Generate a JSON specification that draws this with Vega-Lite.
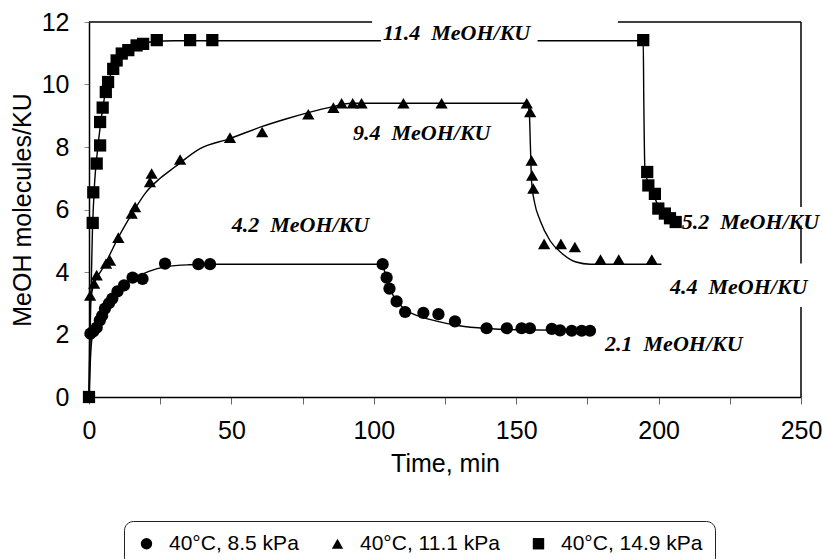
{
  "$schema": "https://vega.github.io/schema/vega-lite/v6.json",
  "width": 712,
  "height": 375,
  "autosize": "none",
  "padding": {"left": 89, "top": 22, "right": 22, "bottom": 162},
  "background": "white",
  "config": {"view": {"stroke": null}, "font": "Liberation Sans"},
  "datasets": {
    "points": [
      {"series": "40°C, 8.5 kPa", "t": 0, "v": 0},
      {"series": "40°C, 8.5 kPa", "t": 0.5, "v": 2.03},
      {"series": "40°C, 8.5 kPa", "t": 1.5, "v": 2.1},
      {"series": "40°C, 8.5 kPa", "t": 2.7, "v": 2.22},
      {"series": "40°C, 8.5 kPa", "t": 3.8, "v": 2.45},
      {"series": "40°C, 8.5 kPa", "t": 4.6, "v": 2.6},
      {"series": "40°C, 8.5 kPa", "t": 5.6, "v": 2.83},
      {"series": "40°C, 8.5 kPa", "t": 7.0, "v": 3.0},
      {"series": "40°C, 8.5 kPa", "t": 8.2, "v": 3.15},
      {"series": "40°C, 8.5 kPa", "t": 10.0, "v": 3.38},
      {"series": "40°C, 8.5 kPa", "t": 12.3, "v": 3.57},
      {"series": "40°C, 8.5 kPa", "t": 15.3, "v": 3.82},
      {"series": "40°C, 8.5 kPa", "t": 18.8, "v": 3.78},
      {"series": "40°C, 8.5 kPa", "t": 26.7, "v": 4.27},
      {"series": "40°C, 8.5 kPa", "t": 38.4, "v": 4.25},
      {"series": "40°C, 8.5 kPa", "t": 42.5, "v": 4.25},
      {"series": "40°C, 8.5 kPa", "t": 103.1, "v": 4.25},
      {"series": "40°C, 8.5 kPa", "t": 104.5, "v": 3.82},
      {"series": "40°C, 8.5 kPa", "t": 105.5, "v": 3.47},
      {"series": "40°C, 8.5 kPa", "t": 108.0, "v": 3.06},
      {"series": "40°C, 8.5 kPa", "t": 111.0, "v": 2.72},
      {"series": "40°C, 8.5 kPa", "t": 117.4, "v": 2.69},
      {"series": "40°C, 8.5 kPa", "t": 122.7, "v": 2.65},
      {"series": "40°C, 8.5 kPa", "t": 128.5, "v": 2.42},
      {"series": "40°C, 8.5 kPa", "t": 139.6, "v": 2.2},
      {"series": "40°C, 8.5 kPa", "t": 146.7, "v": 2.2},
      {"series": "40°C, 8.5 kPa", "t": 151.9, "v": 2.2},
      {"series": "40°C, 8.5 kPa", "t": 154.8, "v": 2.2},
      {"series": "40°C, 8.5 kPa", "t": 162.5, "v": 2.18},
      {"series": "40°C, 8.5 kPa", "t": 165.4, "v": 2.13},
      {"series": "40°C, 8.5 kPa", "t": 169.5, "v": 2.12},
      {"series": "40°C, 8.5 kPa", "t": 173.0, "v": 2.12},
      {"series": "40°C, 8.5 kPa", "t": 175.9, "v": 2.12},
      {"series": "40°C, 11.1 kPa", "t": 0, "v": 0},
      {"series": "40°C, 11.1 kPa", "t": 0.4, "v": 3.25},
      {"series": "40°C, 11.1 kPa", "t": 1.8, "v": 3.63},
      {"series": "40°C, 11.1 kPa", "t": 2.7, "v": 3.9},
      {"series": "40°C, 11.1 kPa", "t": 6.0, "v": 4.27},
      {"series": "40°C, 11.1 kPa", "t": 7.4, "v": 4.37},
      {"series": "40°C, 11.1 kPa", "t": 10.3, "v": 5.1},
      {"series": "40°C, 11.1 kPa", "t": 15.0, "v": 5.87},
      {"series": "40°C, 11.1 kPa", "t": 16.2, "v": 6.08},
      {"series": "40°C, 11.1 kPa", "t": 21.4, "v": 6.88},
      {"series": "40°C, 11.1 kPa", "t": 22.0, "v": 7.15},
      {"series": "40°C, 11.1 kPa", "t": 32.0, "v": 7.6},
      {"series": "40°C, 11.1 kPa", "t": 49.5, "v": 8.3},
      {"series": "40°C, 11.1 kPa", "t": 60.8, "v": 8.48},
      {"series": "40°C, 11.1 kPa", "t": 77.0, "v": 9.05},
      {"series": "40°C, 11.1 kPa", "t": 85.8, "v": 9.26},
      {"series": "40°C, 11.1 kPa", "t": 88.7, "v": 9.4},
      {"series": "40°C, 11.1 kPa", "t": 92.6, "v": 9.4},
      {"series": "40°C, 11.1 kPa", "t": 95.7, "v": 9.4},
      {"series": "40°C, 11.1 kPa", "t": 110.4, "v": 9.4},
      {"series": "40°C, 11.1 kPa", "t": 123.8, "v": 9.4},
      {"series": "40°C, 11.1 kPa", "t": 153.7, "v": 9.4},
      {"series": "40°C, 11.1 kPa", "t": 154.9, "v": 9.12},
      {"series": "40°C, 11.1 kPa", "t": 155.4, "v": 7.57},
      {"series": "40°C, 11.1 kPa", "t": 155.6, "v": 7.09},
      {"series": "40°C, 11.1 kPa", "t": 156.0, "v": 6.67},
      {"series": "40°C, 11.1 kPa", "t": 159.8, "v": 4.9},
      {"series": "40°C, 11.1 kPa", "t": 165.7, "v": 4.9},
      {"series": "40°C, 11.1 kPa", "t": 170.6, "v": 4.8},
      {"series": "40°C, 11.1 kPa", "t": 179.6, "v": 4.4},
      {"series": "40°C, 11.1 kPa", "t": 186.0, "v": 4.4},
      {"series": "40°C, 11.1 kPa", "t": 197.6, "v": 4.4},
      {"series": "40°C, 14.9 kPa", "t": 0, "v": 0},
      {"series": "40°C, 14.9 kPa", "t": 1.3, "v": 5.57},
      {"series": "40°C, 14.9 kPa", "t": 1.5, "v": 6.55},
      {"series": "40°C, 14.9 kPa", "t": 2.7, "v": 7.47},
      {"series": "40°C, 14.9 kPa", "t": 3.9, "v": 8.05},
      {"series": "40°C, 14.9 kPa", "t": 3.9, "v": 8.8},
      {"series": "40°C, 14.9 kPa", "t": 4.8, "v": 9.26},
      {"series": "40°C, 14.9 kPa", "t": 5.9, "v": 9.76},
      {"series": "40°C, 14.9 kPa", "t": 6.7, "v": 10.08},
      {"series": "40°C, 14.9 kPa", "t": 8.5, "v": 10.5},
      {"series": "40°C, 14.9 kPa", "t": 9.7, "v": 10.77},
      {"series": "40°C, 14.9 kPa", "t": 11.5, "v": 10.99},
      {"series": "40°C, 14.9 kPa", "t": 13.8, "v": 11.1},
      {"series": "40°C, 14.9 kPa", "t": 16.7, "v": 11.25},
      {"series": "40°C, 14.9 kPa", "t": 19.0, "v": 11.3},
      {"series": "40°C, 14.9 kPa", "t": 23.8, "v": 11.42},
      {"series": "40°C, 14.9 kPa", "t": 35.5, "v": 11.42},
      {"series": "40°C, 14.9 kPa", "t": 43.3, "v": 11.42},
      {"series": "40°C, 14.9 kPa", "t": 194.6, "v": 11.42},
      {"series": "40°C, 14.9 kPa", "t": 196.0, "v": 7.2},
      {"series": "40°C, 14.9 kPa", "t": 196.4, "v": 6.77},
      {"series": "40°C, 14.9 kPa", "t": 198.7, "v": 6.5},
      {"series": "40°C, 14.9 kPa", "t": 199.9, "v": 6.03},
      {"series": "40°C, 14.9 kPa", "t": 202.2, "v": 5.87},
      {"series": "40°C, 14.9 kPa", "t": 204.0, "v": 5.72},
      {"series": "40°C, 14.9 kPa", "t": 206.0, "v": 5.6}
    ],
    "fits": [
      {"seg": "c", "t": 0, "v": 0},
      {"seg": "c", "t": 0.5, "v": 1.2},
      {"seg": "c", "t": 1.2, "v": 2.0},
      {"seg": "c", "t": 3, "v": 2.45},
      {"seg": "c", "t": 5, "v": 2.8},
      {"seg": "c", "t": 8, "v": 3.2},
      {"seg": "c", "t": 12, "v": 3.55},
      {"seg": "c", "t": 16, "v": 3.8},
      {"seg": "c", "t": 21, "v": 4.02},
      {"seg": "c", "t": 27, "v": 4.17},
      {"seg": "c", "t": 35, "v": 4.23},
      {"seg": "c", "t": 45, "v": 4.25},
      {"seg": "c", "t": 102.5, "v": 4.25},
      {"seg": "c", "t": 103.5, "v": 4.1},
      {"seg": "c", "t": 104.5, "v": 3.8},
      {"seg": "c", "t": 106, "v": 3.4},
      {"seg": "c", "t": 108, "v": 3.08},
      {"seg": "c", "t": 111, "v": 2.8},
      {"seg": "c", "t": 116, "v": 2.58},
      {"seg": "c", "t": 122, "v": 2.43},
      {"seg": "c", "t": 130, "v": 2.28},
      {"seg": "c", "t": 140, "v": 2.19},
      {"seg": "c", "t": 150, "v": 2.15},
      {"seg": "c", "t": 176, "v": 2.13},
      {"seg": "t", "t": 0, "v": 0},
      {"seg": "t", "t": 0.5, "v": 3.0},
      {"seg": "t", "t": 1.5, "v": 3.55},
      {"seg": "t", "t": 3, "v": 3.85},
      {"seg": "t", "t": 5, "v": 4.15},
      {"seg": "t", "t": 7, "v": 4.5},
      {"seg": "t", "t": 10, "v": 5.05},
      {"seg": "t", "t": 15, "v": 5.85},
      {"seg": "t", "t": 20, "v": 6.55},
      {"seg": "t", "t": 25, "v": 7.0},
      {"seg": "t", "t": 30, "v": 7.35},
      {"seg": "t", "t": 39, "v": 7.95},
      {"seg": "t", "t": 49.5, "v": 8.27},
      {"seg": "t", "t": 60.6, "v": 8.65},
      {"seg": "t", "t": 70, "v": 8.92},
      {"seg": "t", "t": 77, "v": 9.1},
      {"seg": "t", "t": 86, "v": 9.3},
      {"seg": "t", "t": 92, "v": 9.4},
      {"seg": "t", "t": 100, "v": 9.4},
      {"seg": "t", "t": 154, "v": 9.4},
      {"seg": "t", "t": 154.6, "v": 9.1},
      {"seg": "t", "t": 155, "v": 8.0},
      {"seg": "t", "t": 155.4, "v": 6.9},
      {"seg": "t", "t": 156.5, "v": 6.2},
      {"seg": "t", "t": 158.4, "v": 5.65},
      {"seg": "t", "t": 161.9, "v": 5.0},
      {"seg": "t", "t": 166, "v": 4.6},
      {"seg": "t", "t": 171, "v": 4.32},
      {"seg": "t", "t": 176, "v": 4.25},
      {"seg": "t", "t": 201, "v": 4.25},
      {"seg": "s1", "t": 0, "v": 0},
      {"seg": "s1", "t": 0.5, "v": 2.5},
      {"seg": "s1", "t": 1.2, "v": 5.3},
      {"seg": "s1", "t": 2, "v": 6.9},
      {"seg": "s1", "t": 3, "v": 7.9},
      {"seg": "s1", "t": 4, "v": 8.7},
      {"seg": "s1", "t": 5, "v": 9.35},
      {"seg": "s1", "t": 6, "v": 9.85},
      {"seg": "s1", "t": 8, "v": 10.4},
      {"seg": "s1", "t": 10, "v": 10.75},
      {"seg": "s1", "t": 13, "v": 11.05},
      {"seg": "s1", "t": 17, "v": 11.25},
      {"seg": "s1", "t": 22, "v": 11.37},
      {"seg": "s1", "t": 30, "v": 11.4},
      {"seg": "s1", "t": 102.5, "v": 11.4},
      {"seg": "s2", "t": 157.5, "v": 11.4},
      {"seg": "s2", "t": 194.6, "v": 11.4},
      {"seg": "s2", "t": 194.8, "v": 9.5},
      {"seg": "s2", "t": 195.2, "v": 7.3},
      {"seg": "s2", "t": 196.5, "v": 6.8},
      {"seg": "s2", "t": 198.5, "v": 6.4},
      {"seg": "s2", "t": 200.5, "v": 6.0},
      {"seg": "s2", "t": 203, "v": 5.75},
      {"seg": "s2", "t": 206, "v": 5.6}
    ],
    "frame": [
      {"t": 0, "t2": 99.4, "v": 12, "v2": 12},
      {"t": 185.7, "t2": 250, "v": 12, "v2": 12},
      {"t": 250, "t2": 250, "v": 12, "v2": 6.08},
      {"t": 250, "t2": 250, "v": 5.49, "v2": 4.27},
      {"t": 250, "t2": 250, "v": 2.88, "v2": 0}
    ],
    "labels": [
      {"t": 103.2, "v": 11.64, "text": "11.4\u00a0 MeOH/KU"},
      {"t": 92.7, "v": 8.44, "text": "9.4\u00a0 MeOH/KU"},
      {"t": 50.1, "v": 5.49, "text": "4.2\u00a0 MeOH/KU"},
      {"t": 208.1, "v": 5.6, "text": "5.2\u00a0 MeOH/KU"},
      {"t": 204.0, "v": 3.52, "text": "4.4\u00a0 MeOH/KU"},
      {"t": 181.2, "v": 1.71, "text": "2.1\u00a0 MeOH/KU"}
    ]
  },
  "encoding": {
    "x": {
      "field": "t",
      "type": "quantitative",
      "scale": {"domain": [0, 250], "nice": false, "zero": false},
      "axis": {
        "title": "Time, min",
        "values": [0, 25, 50, 75, 100, 125, 150, 175, 200, 225, 250],
        "labelExpr": "datum.value % 50 === 0 ? datum.label : ''",
        "grid": false,
        "domainColor": "black",
        "domainWidth": 1.5,
        "tickColor": "#666",
        "tickSize": 7,
        "labelFont": "Liberation Sans",
        "labelFontSize": 25,
        "labelColor": "black",
        "labelPadding": 14,
        "labelFlush": false,
        "labelOverlap": false,
        "titleFont": "Liberation Sans",
        "titleFontSize": 25,
        "titleFontWeight": "normal",
        "titleColor": "black",
        "titlePadding": 8
      }
    },
    "y": {
      "field": "v",
      "type": "quantitative",
      "scale": {"domain": [0, 12], "nice": false},
      "axis": {
        "title": "MeOH molecules/KU",
        "values": [0, 2, 4, 6, 8, 10, 12],
        "grid": false,
        "domainColor": "black",
        "domainWidth": 1.5,
        "tickColor": "#888",
        "tickSize": 5,
        "labelFont": "Liberation Sans",
        "labelFontSize": 25,
        "labelColor": "black",
        "labelPadding": 15,
        "labelFlush": false,
        "titleFont": "Liberation Sans",
        "titleFontSize": 25,
        "titleFontWeight": "normal",
        "titleColor": "black",
        "titlePadding": 6
      }
    }
  },
  "layer": [
    {
      "data": {"name": "frame"},
      "mark": {"type": "rule", "color": "black", "strokeWidth": 1.5},
      "encoding": {"x2": {"field": "t2"}, "y2": {"field": "v2"}}
    },
    {
      "data": {"name": "fits"},
      "mark": {"type": "line", "color": "black", "strokeWidth": 1.4, "interpolate": "monotone"},
      "encoding": {"detail": {"field": "seg", "type": "nominal"}}
    },
    {
      "data": {"name": "points"},
      "mark": {"type": "point", "filled": true, "color": "black", "opacity": 1, "size": 150},
      "encoding": {
        "shape": {
          "field": "series",
          "type": "nominal",
          "scale": {
            "domain": ["40°C, 8.5 kPa", "40°C, 11.1 kPa", "40°C, 14.9 kPa"],
            "range": ["circle", "triangle-up", "square"]
          },
          "legend": {
            "title": null,
            "orient": "none",
            "legendX": 35,
            "legendY": 499,
            "direction": "horizontal",
            "labelFont": "Liberation Sans",
            "labelFontSize": 21,
            "labelColor": "black",
            "symbolSize": 130,
            "symbolFillColor": "black",
            "symbolStrokeColor": "black",
            "symbolStrokeWidth": 0,
            "labelOffset": 12,
            "columnPadding": 28,
            "padding": 12,
            "strokeColor": "#222",
            "cornerRadius": 9,
            "fillColor": "white"
          }
        }
      }
    },
    {
      "data": {"name": "labels"},
      "mark": {
        "type": "text",
        "align": "left",
        "baseline": "middle",
        "font": "Liberation Serif",
        "fontSize": 22,
        "fontStyle": "italic",
        "fontWeight": "bold",
        "color": "black"
      },
      "encoding": {"text": {"field": "text", "type": "nominal"}}
    }
  ]
}
